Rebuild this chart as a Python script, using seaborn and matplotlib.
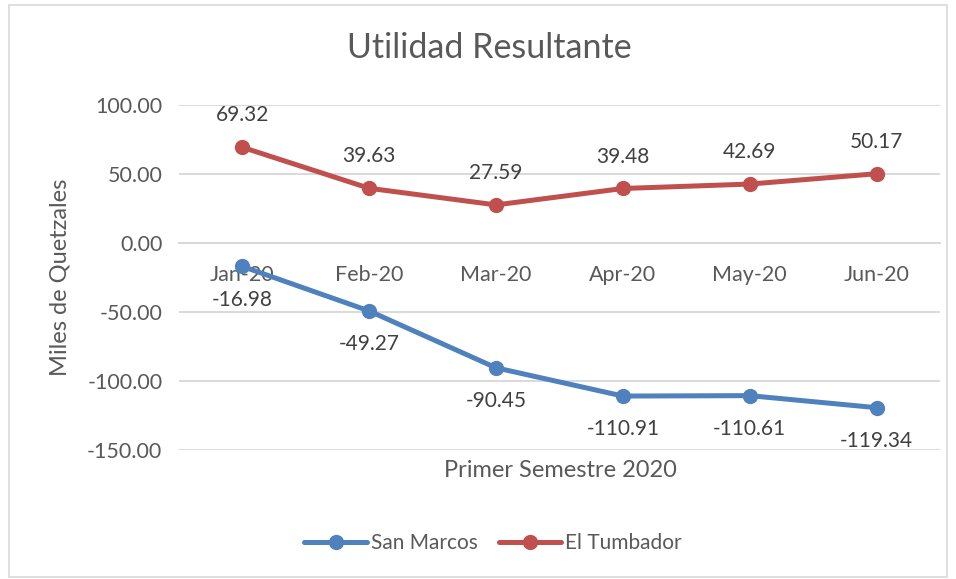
import matplotlib.pyplot as plt
import matplotlib.patches as mpatches
import pandas as pd
import seaborn as sns

# data
meses = ["Jan-20", "Feb-20", "Mar-20", "Apr-20", "May-20", "Jun-20"]
san_marcos = [-16.98, -49.27, -90.45, -110.91, -110.61, -119.34]
el_tumbador = [69.32, 39.63, 27.59, 39.48, 42.69, 50.17]
series = ["San Marcos", "El Tumbador"]
colores = ["#4F81BD", "#C0504D"]
yticks = [100, 50, 0, -50, -100, -150]

df = pd.DataFrame({
    "Mes": meses * 2,
    "Valor": san_marcos + el_tumbador,
    "Serie": [series[0]] * len(meses) + [series[1]] * len(meses),
})

sns.set_style("white")
plt.rcParams["font.family"] = ["Lato", "DejaVu Sans"]
gris = "#595959"

fig = plt.figure(figsize=(9.56, 5.79), dpi=100)
ax = fig.add_axes([0.1872, 0.2228, 0.7960, 0.5959])

sns.lineplot(data=df, x="Mes", y="Valor", hue="Serie", palette=colores,
             marker="o", markersize=11, markeredgewidth=0, linewidth=3.6,
             sort=False, ax=ax)

ax.set_ylim(-150, 100)
ax.set_xlim(-0.5, len(meses) - 0.5)
ax.set_yticks(yticks)
ax.set_yticklabels([f"{v:.2f}" for v in yticks], color=gris, fontsize=15.5)
ax.yaxis.grid(True, color="#D9D9D9", linewidth=1.4)
ax.set_axisbelow(True)
for s in ["top", "right", "left"]:
    ax.spines[s].set_visible(False)
ax.spines["bottom"].set_position(("data", 0))
ax.spines["bottom"].set_color("#D9D9D9")
ax.spines["bottom"].set_linewidth(1.4)
ax.tick_params(axis="y", length=0, pad=12)
ax.tick_params(axis="x", which="major", length=0, pad=16, labelsize=15.5, labelcolor=gris)
ax.set_xticks([i - 0.5 for i in range(len(meses) + 1)], minor=True)
ax.tick_params(axis="x", which="minor", length=6, width=1.4, color="#D9D9D9", direction="out")

# data labels
for i, v in enumerate(el_tumbador):
    ax.annotate(f"{v:.2f}", (i, v), xytext=(0, 23), textcoords="offset points",
                ha="center", va="center", fontsize=15, color="#404040")
for i, v in enumerate(san_marcos):
    ax.annotate(f"{v:.2f}", (i, v), xytext=(0, -24), textcoords="offset points",
                ha="center", va="center", fontsize=15, color="#404040")

ax.set_xlabel("")
ax.set_ylabel("Miles de Quetzales", fontsize=17, color=gris, labelpad=12)
fig.text(0.586, 0.188, "Primer Semestre 2020", ha="center", va="center",
         fontsize=17, color=gris)
fig.text(0.512, 0.917, "Utilidad Resultante", ha="center", va="center",
         fontsize=24.5, color=gris)

ax.legend(loc="center", bbox_to_anchor=(0.413, -0.27), ncol=2, frameon=False,
          fontsize=15, handlelength=3, columnspacing=1.0, handletextpad=0.2,
          labelcolor=gris)

# chart area border
fig.patches.append(mpatches.Rectangle((0.009, 0.004), 0.982, 0.988, transform=fig.transFigure,
                                      fill=False, edgecolor="#D9D9D9", linewidth=1.2))

fig.savefig("out.png", dpi=100)
